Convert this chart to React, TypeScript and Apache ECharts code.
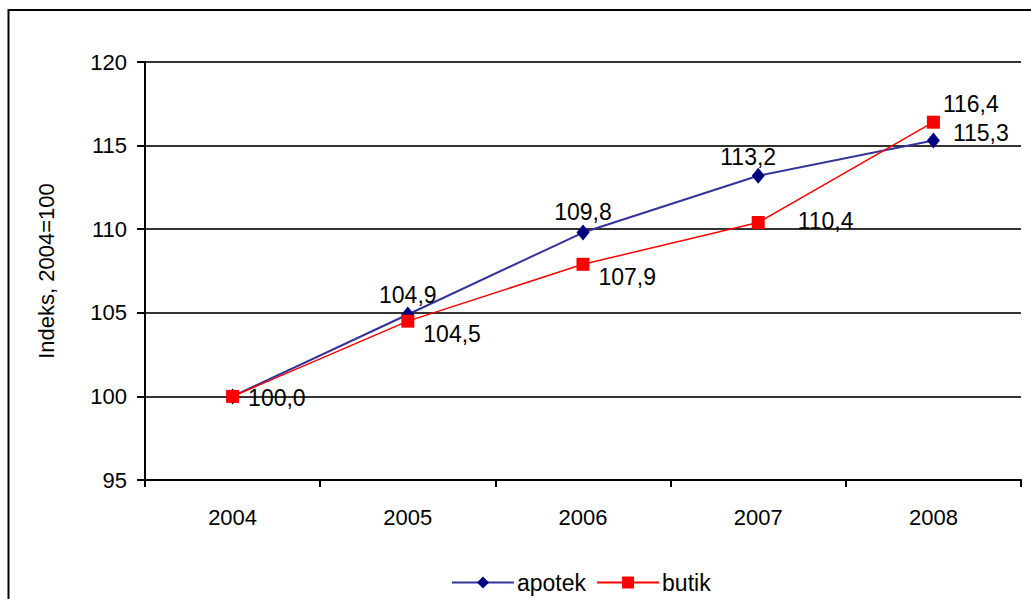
import React, { useEffect, useRef } from "react";
import * as echarts from "echarts";

const categories = ["2004", "2005", "2006", "2007", "2008"];
const apotek = [100.0, 104.9, 109.8, 113.2, 115.3];
const butik = [100.0, 104.5, 107.9, 110.4, 116.4];
const yTicks = { min: 95, max: 120, interval: 5 };

const FONT = "'Liberation Sans', Arial, sans-serif";

const fmt = (v: number) => v.toFixed(1).replace(".", ",");

const apotekLabels = [
  { show: false },
  { position: "top", offset: [0, 5] },
  { position: "top", offset: [0, 4] },
  { position: "top", offset: [-10, 6] },
  { position: "right", offset: [8, -8] },
];
const butikLabels = [
  { position: "right", offset: [4, 2] },
  { position: "right", offset: [4, 13] },
  { position: "right", offset: [4, 13] },
  { position: "right", offset: [28, -2] },
  { position: "right", offset: [-2, -18] },
];

export default function App() {
  const ref = useRef<HTMLDivElement>(null);
  useEffect(() => {
    if (!ref.current) return;
    const chart = echarts.init(ref.current, null, { renderer: "svg" });
    const labelBase = {
      show: true,
      color: "#000",
      fontFamily: FONT,
      fontSize: 23,
      formatter: (p: any) => fmt(p.value),
    };
    chart.setOption({
      animation: false,
      backgroundColor: "#fff",
      textStyle: { fontFamily: FONT },
      graphic: [
        {
          type: "rect",
          shape: { x: 8.5, y: 10, width: 1200, height: 800 },
          style: { fill: "none", stroke: "#000", lineWidth: 2 },
          silent: true,
        },
      ],
      grid: { left: 145, top: 62, right: 10, bottom: 119, containLabel: false },
      legend: {
        left: 446,
        top: 566,
        itemWidth: 62,
        itemHeight: 15,
        itemGap: 10,
        textStyle: { fontFamily: FONT, fontSize: 23, color: "#000", padding: [0, 0, 0, -2] },
        data: ["apotek", "butik"],
      },
      xAxis: {
        type: "category",
        data: categories,
        boundaryGap: true,
        axisLine: { lineStyle: { color: "#000", width: 2 } },
        axisTick: { show: true, length: 7, alignWithLabel: false, lineStyle: { color: "#000", width: 2 } },
        axisLabel: { color: "#000", fontSize: 22, fontFamily: FONT, margin: 26 },
      },
      yAxis: {
        type: "value",
        min: yTicks.min,
        max: yTicks.max,
        interval: yTicks.interval,
        name: "Indeks, 2004=100",
        nameLocation: "middle",
        nameRotate: 90,
        nameGap: 88,
        nameTextStyle: { color: "#000", fontSize: 22, fontFamily: FONT },
        axisLine: { show: true, lineStyle: { color: "#000", width: 2 } },
        axisTick: { show: true, length: 8, lineStyle: { color: "#000", width: 2 } },
        axisLabel: { color: "#000", fontSize: 22, fontFamily: FONT, margin: 18 },
        splitLine: { show: true, lineStyle: { color: "#333", width: 2 } },
      },
      series: [
        {
          name: "apotek",
          type: "line",
          data: apotek.map((v, i) => ({ value: v, label: { ...labelBase, ...apotekLabels[i] } })),
          symbol: "diamond",
          symbolSize: [13, 16],
          itemStyle: { color: "#000080" },
          lineStyle: { color: "#333399", width: 2 },
          label: labelBase,
          z: 3,
        },
        {
          name: "butik",
          type: "line",
          data: butik.map((v, i) => ({ value: v, label: { ...labelBase, ...butikLabels[i] } })),
          symbol: "rect",
          symbolSize: 13,
          itemStyle: { color: "#FF0000" },
          lineStyle: { color: "#FF0000", width: 1.5 },
          label: labelBase,
          z: 4,
        },
      ],
    });
    return () => chart.dispose();
  }, []);
  return (
    <div
      ref={ref}
      style={{ position: "fixed", left: 0, top: 0, width: 1031, height: 599, background: "#fff" }}
    />
  );
}
